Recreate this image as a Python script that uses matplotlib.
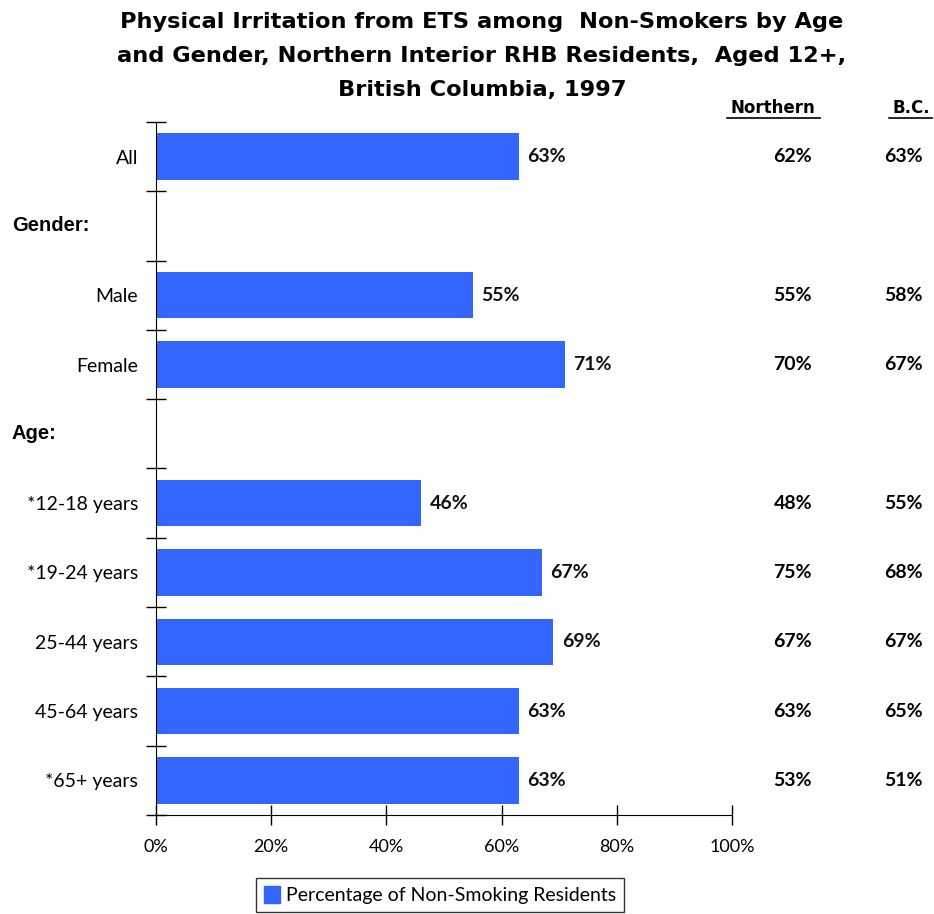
import matplotlib
matplotlib.use("Agg")
import matplotlib.pyplot as plt
from matplotlib.lines import Line2D
from matplotlib.transforms import blended_transform_factory

categories = ["All", "", "Male", "Female", "", "*12-18 years", "*19-24 years",
              "25-44 years", "45-64 years", "*65+ years"]
values = [63, None, 55, 71, None, 46, 67, 69, 63, 63]
northern = ["62%", "", "55%", "70%", "", "48%", "75%", "67%", "63%", "53%"]
bc = ["63%", "", "58%", "67%", "", "55%", "68%", "67%", "65%", "51%"]
section_labels = {1: "Gender:", 4: "Age:"}
xticks = [0, 20, 40, 60, 80, 100]
xticklabels = ["0%", "20%", "40%", "60%", "80%", "100%"]
title_lines = ["Physical Irritation from ETS among  Non-Smokers by Age",
               "and Gender, Northern Interior RHB Residents,  Aged 12+,",
               "British Columbia, 1997"]

BLUE = "#3366FF"
LBL = "Lato"

fig = plt.figure(figsize=(9.34, 9.14), dpi=100)
ax = fig.add_axes([156/934, 1-815/914, (732-156)/934, (815-122)/914])

n = len(categories)
ys = list(range(n))
for y, v in zip(ys, values):
    if v is None:
        continue
    ax.barh(y, v, height=0.67, color=BLUE, edgecolor="none")
    ax.text(v + 1.5, y, f"{v}%", va="center", ha="left", fontsize=14,
            fontweight="bold", family=LBL, color="#111111")

ax.set_ylim(n - 0.5, -0.5)
ax.set_xlim(0, 100)
ax.set_yticks(ys)
ax.set_yticklabels(categories, fontsize=14, family=LBL)
ax.set_yticks([i - 0.5 for i in range(n + 1)], minor=True)
ax.tick_params(axis="y", which="major", length=0, pad=13)
ax.tick_params(axis="y", which="minor", length=15, direction="inout", width=1)
ax.set_xticks(xticks)
ax.set_xticklabels(xticklabels, fontsize=13, family=LBL)
ax.tick_params(axis="x", which="major", length=15, direction="inout", width=1, pad=10)
for s in ["top", "right"]:
    ax.spines[s].set_visible(False)

tr = blended_transform_factory(fig.transFigure, ax.transData)
for i, lab in section_labels.items():
    fig.text(12/934, i, lab, transform=tr, ha="left", va="center",
             fontsize=14.5, fontweight="bold", family="Liberation Sans")

for i in range(n):
    if northern[i]:
        fig.text(812/934, i, northern[i], transform=tr, ha="right", va="center",
                 fontsize=14, fontweight="bold", family=LBL)
    if bc[i]:
        fig.text(923/934, i, bc[i], transform=tr, ha="right", va="center",
                 fontsize=14, fontweight="bold", family=LBL)

fig.text(773/934, 1-108/914, "Northern", ha="center", va="center",
         fontsize=12, fontweight="bold", family="DejaVu Sans")
fig.add_artist(Line2D([727/934, 820/934], [1-118/914]*2, color="black", lw=1.2))
fig.text(911/934, 1-108/914, "B.C.", ha="center", va="center",
         fontsize=12, fontweight="bold", family="DejaVu Sans")
fig.add_artist(Line2D([889/934, 932/934], [1-118/914]*2, color="black", lw=1.2))

for line, yc in zip(title_lines, [20, 54, 88]):
    fig.text(482/934, 1-yc/914, line, ha="center", va="center_baseline",
             fontsize=16.2, fontweight="bold", family="DejaVu Sans")

leg = fig.legend(handles=[plt.Rectangle((0, 0), 1, 1, color=BLUE)],
                 labels=["Percentage of Non-Smoking Residents"],
                 loc="center", bbox_to_anchor=(440/934, 1-895/914),
                 frameon=True, fancybox=False, edgecolor="black",
                 prop={"family": LBL, "size": 14},
                 handlelength=0.8, handleheight=1.0, handletextpad=0.3,
                 borderpad=0.4)
leg.get_frame().set_linewidth(1)

fig.savefig("out.png", dpi=100)
